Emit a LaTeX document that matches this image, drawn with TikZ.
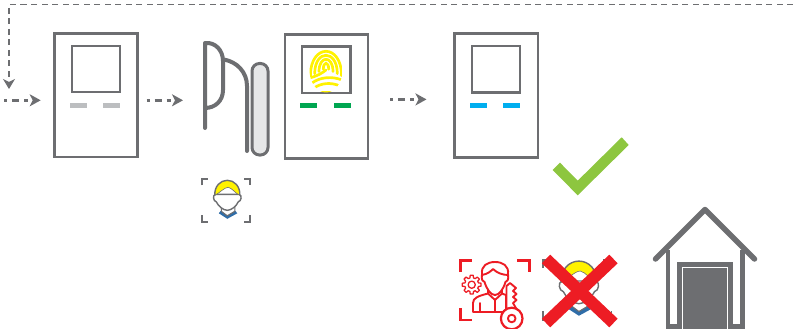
\documentclass[tikz,border=0pt]{standalone}
\usetikzlibrary{arrows.meta}
\definecolor{linegray}{HTML}{6D6E71}
\definecolor{padgray}{HTML}{BCBEC0}
\definecolor{pillgray}{HTML}{E6E7E8}
\definecolor{okgreen}{HTML}{00A651}
\definecolor{okblue}{HTML}{00AEEF}
\definecolor{tick}{HTML}{8DC63F}
\definecolor{xred}{HTML}{ED1C24}
\definecolor{hair}{HTML}{FFF200}
\definecolor{collar}{HTML}{2F6DA8}
\tikzset{
  panel/.style={draw=linegray,line width=2.8pt,fill=white},
  screen/.style={draw=linegray,line width=2.4pt,fill=white},
  flow/.style={draw=linegray,line width=2.5pt,dash pattern=on 3pt off 5pt on 7pt off 5pt on 4pt off 30pt,
    -{Stealth[length=11pt,width=12pt,inset=3pt,fill=linegray]}},
  loopline/.style={draw=linegray,line width=1.4pt,dash pattern=on 6pt off 4.5pt,
    -{Stealth[length=10pt,width=12pt,inset=3pt,fill=linegray]}},
  handle/.style={draw=linegray,line width=4pt,line cap=round,line join=round},
  redline/.style={draw=xred,line width=1.9pt,line join=round,line cap=round},
  printline/.style={draw=hair,line width=2.7pt,line cap=round},
  corner/.style={draw=linegray,line width=1.7pt},
}
\newcommand{\facemark}[3]{%
  \begin{scope}[shift={(#1,#2)},scale=#3]
    \draw[corner] (-24.5,-15) -- (-24.5,-21) -- (-18,-21);
    \draw[corner] (18,-21) -- (24,-21) -- (24,-15);
    \draw[corner] (-24.5,15) -- (-24.5,21.5) -- (-18,21.5);
    \draw[corner] (18,21.5) -- (24,21.5) -- (24,15);
    \fill[collar] (-7.5,13) -- (1,18.5) -- (11,13) -- (9,10.5) -- (1,15.5) -- (-5.5,10.5) -- cycle;
    \draw[draw=linegray,line width=1.1pt,line join=round] (-5,6) -- (-5,11) -- (1,15.5) -- (8.5,11) -- (8.5,6);
    \draw[draw=linegray,line width=1.4pt,fill=white]
      (-11,-6) .. controls (-14,-5) and (-13,1) .. (-10,1.5)
      .. controls (-8,6) and (-3,10) .. (1,10)
      .. controls (5,10) and (10,6) .. (12,1.5)
      .. controls (15,1) and (16,-5) .. (13,-6) -- cycle;
    \fill[hair]
      (-11.5,-5) .. controls (-12,-14) and (-6,-20) .. (1,-20)
      .. controls (8,-20) and (14,-14) .. (13.5,-5)
      .. controls (9,-7) and (6,-12) .. (2,-13)
      .. controls (-2,-13) and (-7,-7) .. (-11.5,-5) -- cycle;
    \draw[draw=linegray,line width=1.4pt]
      (-11.5,-5) .. controls (-12,-14) and (-6,-20) .. (1,-20)
      .. controls (8,-20) and (14,-14) .. (13.5,-5);
    \draw[draw=linegray,line width=0.6pt]
      (13.5,-5) .. controls (9,-7) and (6,-12) .. (2,-13)
      .. controls (-2,-13) and (-7,-7) .. (-11.5,-5);
  \end{scope}}
\begin{document}
\begin{tikzpicture}[x=1pt,y=-1pt]
\useasboundingbox (0,0) rectangle (793,329);
% coordinates for the connectors
\coordinate (loopstart) at (793,4.5);
\coordinate (loopbend) at (9,4.5);
\coordinate (loopend) at (9,89);
\coordinate (a1s) at (4,100.3);
\coordinate (a1e) at (40.7,100.3);
\coordinate (a2s) at (146.5,100.3);
\coordinate (a2e) at (183,100.3);
\coordinate (a3s) at (390,99.4);
\coordinate (a3e) at (426.5,99.4);
\draw[loopline] (loopstart) -- (loopbend) -- (loopend);
\draw[flow] (a1s) -- (a1e);
\draw[flow] (a2s) -- (a2e);
\draw[flow] (a3s) -- (a3e);
% device 1
\draw[panel] (54.5,33.8) rectangle (137.3,157);
\draw[screen] (72,46.3) rectangle (119.7,92.3);
\fill[padgray] (70,103) rectangle (87,108);
\fill[padgray] (103,103) rectangle (120,108);
% door handle and pill
\draw[handle] (205,128) -- (205,43) .. controls (215,42) and (223,50) .. (223,61) -- (223,90) .. controls (223,101) and (215,108) .. (205,108);
\draw[handle] (224,59.5) .. controls (237,62) and (247,72) .. (247,86) -- (247,151);
\draw[draw=linegray,line width=3pt,fill=pillgray,rounded corners=7.5pt] (252,63.5) rectangle (268,155);
% device 2
\draw[panel] (285,34.3) rectangle (368,158.5);
\draw[screen] (302,46.7) rectangle (350.5,93.3);
\begin{scope}
  \clip (326,70) ellipse (16.5 and 22.5);
  \foreach \r in {2.7,7,11.3,15.6}
    \draw[printline] (326-\r,68+0.5*\r) .. controls (326-\r,65-1.4*\r) and (326+\r,65-1.4*\r) .. (326+\r,68+0.5*\r);
  \draw[printline] (309,78) .. controls (318,76) and (322,73) .. (326,70);
  \draw[printline] (312,83) .. controls (320,77) and (332,76) .. (342,80);
  \draw[printline] (314,88) .. controls (321,83) and (331,82) .. (340,86);
  \draw[printline] (319,92) -- (334,92);
\end{scope}
\fill[okgreen] (300,103) rectangle (317,108);
\fill[okgreen] (334,103) rectangle (351,108);
% device 3
\draw[panel] (454.5,33.5) rectangle (538,157.8);
\draw[screen] (471.8,46) rectangle (520,92.5);
\fill[okblue] (470,103) rectangle (487,108);
\fill[okblue] (503,103) rectangle (520,108);
% tick
\fill[tick] (552.7,170) -- (560,162.7) -- (577.7,180.7) -- (621.7,137.3) -- (628.7,145) -- (577.7,195.3) -- cycle;
% small face
\facemark{226.3}{200.3}{1}
% red admin icon
\draw[draw=xred,line width=2.5pt] (460.5,272) -- (460.5,260.5) -- (472,260.5);
\draw[draw=xred,line width=2.5pt] (517,260.5) -- (529.5,260.5) -- (529.5,272);
\draw[draw=xred,line width=2.5pt] (460.5,308) -- (460.5,320) -- (472,320);
\draw[redline,fill=white] (477,312) -- (473,312) -- (473,303) .. controls (473,298) and (478,296) .. (488,293.5) -- (488,290) -- (502,290) -- (502,293.5) .. controls (504,294) and (505,295) .. (506,295) -- (506,312) -- cycle;
\draw[redline] (480,303) -- (480,312);
\draw[redline] (488,293.5) -- (495,300) -- (502,293.5);
\draw[redline] (495,300) -- (495,312);
\draw[redline,fill=white] (482,274) .. controls (481,266) and (487,262) .. (495,262) .. controls (503,262) and (509,266) .. (508,274) .. controls (509,280) and (507,282) .. (505.5,282) .. controls (503,290) and (499,295) .. (495,295) .. controls (491,295) and (487,290) .. (484.5,282) .. controls (483,282) and (481,280) .. (482,274) -- cycle;
\draw[redline] (482,275) .. controls (488,274) and (491,271) .. (493,269) .. controls (497,273) and (503,275) .. (508,275);
\begin{scope}[shift={(471.7,284.7)}]
  \draw[redline,line width=1.3pt] (9:9.5) \foreach \a in {0,45,...,315} {-- (\a+9:9.5) -- (\a+15:7) -- (\a+30:7) -- (\a+36:9.5)} -- cycle;
  \draw[redline,line width=1.3pt] (0,0) circle (3.6);
\end{scope}
\draw[redline,fill=white] (506.5,310) -- (506.5,286) -- (510,283) -- (516,288) -- (513,291) -- (516.5,294) -- (513,297) -- (516.5,300) -- (513,303) -- (516.5,309) -- cycle;
\draw[redline,line width=2.2pt,fill=white] (511.7,318.5) circle (10.8);
\draw[redline] (511.7,318.5) circle (3.8);
% crossed face
\facemark{577.5}{289.5}{1.42}
\draw[draw=xred,line width=12pt] (546,259) -- (613.5,323);
\draw[draw=xred,line width=12pt] (613.5,259) -- (546,323);
% house
\draw[draw=linegray,line width=5.5pt,line cap=round,line join=round] (655.5,259) -- (705,209.5) -- (754.5,259);
\draw[draw=linegray,line width=4.6pt] (668,250) -- (668,326.7) -- (680,326.7);
\draw[draw=linegray,line width=4.6pt] (742.5,250) -- (742.5,326.7) -- (730,326.7);
\fill[linegray] (677,262) rectangle (732.7,329);
\draw[white,line width=0.7pt] (682.3,329) -- (682.3,267.7) -- (727.3,267.7) -- (727.3,329);
\end{tikzpicture}
\end{document}
